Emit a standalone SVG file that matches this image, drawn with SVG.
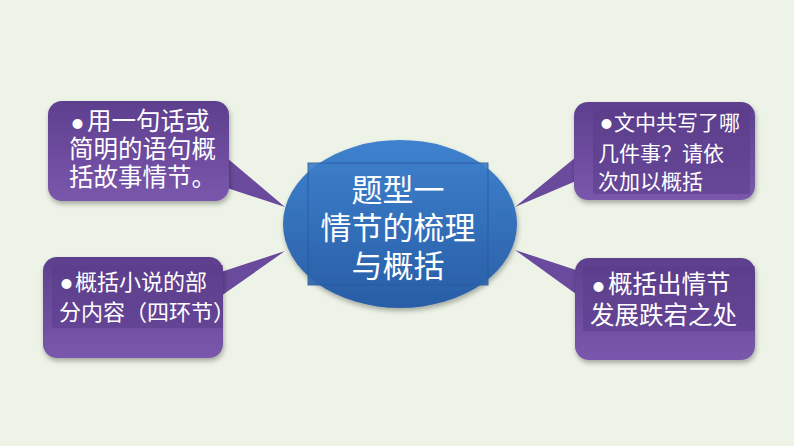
<svg xmlns="http://www.w3.org/2000/svg" width="794" height="446" viewBox="0 0 794 446">
<defs>
<linearGradient id="pg" x1="0" y1="0" x2="0" y2="1">
<stop offset="0" stop-color="#5E3F8E"/>
<stop offset="1" stop-color="#7A57AC"/>
</linearGradient>
<linearGradient id="bg" x1="0" y1="0" x2="0" y2="1">
<stop offset="0" stop-color="#3F82CE"/>
<stop offset="1" stop-color="#2A5EA6"/>
</linearGradient>
<linearGradient id="ig" x1="0" y1="0" x2="0" y2="1">
<stop offset="0" stop-color="#3C7DC9"/>
<stop offset="1" stop-color="#2B62AB"/>
</linearGradient>
<filter id="sh" x="-10%" y="-10%" width="130%" height="130%">
<feDropShadow dx="1" dy="3" stdDeviation="2.5" flood-color="#000" flood-opacity="0.3"/>
</filter>
<clipPath id="c2"><rect x="43" y="257" width="180" height="101" rx="14"/></clipPath>
</defs>
<style>
.box{fill:url(#pg);filter:url(#sh)}
.inner{fill:#5A3D89;opacity:0.55}
.t{fill:#fff;font-family:"Noto Sans CJK SC","Noto Sans",sans-serif}
.b{font-size:11px}
</style>
<rect width="794" height="446" fill="#EDF3E6"/>
<g id="connectors">
<polygon points="227,158 285,207 227,188" fill="#6A4A9C"/>
<polygon points="221,272 285,251 221,296" fill="#6A4A9C"/>
<polygon points="576,157 515,207 576,181" fill="#6A4A9C"/>
<polygon points="576,270 515,250 576,294" fill="#6A4A9C"/>
</g>
<g id="node-center">
<ellipse cx="400" cy="224" rx="117" ry="84" fill="url(#bg)" filter="url(#sh)"/>
<rect x="308" y="163" width="180" height="122" fill="url(#ig)" stroke="#2A5A9C" stroke-width="1" opacity="0.9"/>
<text class="t" font-size="31" text-anchor="middle" x="398" y="201">题型一</text>
<text class="t" font-size="31" text-anchor="middle" x="398" y="239">情节的梳理</text>
<text class="t" font-size="31" text-anchor="middle" x="398" y="277">与概括</text>
</g>
<g id="node-tl">
<rect class="box" x="48" y="101" width="181" height="100" rx="14"/>
<text class="t" font-size="24.5" x="69" y="130"><tspan class="b" dx="3" dy="-2">●</tspan><tspan dx="4" dy="2">用一句话或</tspan></text>
<text class="t" font-size="24.5" x="69" y="158">简明的语句概</text>
<text class="t" font-size="24.5" x="69" y="186">括故事情节。</text>
</g>
<g id="node-bl">
<rect class="box" x="43" y="257" width="180" height="101" rx="14"/>
<rect class="inner" x="52" y="265" width="171" height="63"/>
<g clip-path="url(#c2)">
<text class="t" font-size="22" x="59" y="290"><tspan class="b" dx="2" dy="-2">●</tspan><tspan dx="3" dy="2">概括小说的部</tspan></text>
<text class="t" font-size="22" x="59" y="320">分内容（四环节）</text>
</g>
</g>
<g id="node-tr">
<rect class="box" x="574" y="102" width="181" height="98" rx="14"/>
<rect class="inner" x="593" y="106" width="157" height="88"/>
<text class="t" font-size="21" x="598" y="130"><tspan class="b" font-size="9" dx="3" dy="-2">●</tspan><tspan dx="2" dy="2">文中共写了哪</tspan></text>
<text class="t" font-size="21" x="598" y="161">几件事？请依</text>
<text class="t" font-size="21" x="598" y="189">次加以概括</text>
</g>
<g id="node-br">
<rect class="box" x="575" y="258" width="180" height="102" rx="14"/>
<rect class="inner" x="583" y="266" width="172" height="65"/>
<text class="t" font-size="24.5" x="590" y="293"><tspan class="b" dx="3" dy="-2">●</tspan><tspan dx="4" dy="2">概括出情节</tspan></text>
<text class="t" font-size="24.5" x="590" y="324">发展跌宕之处</text>
</g>
</svg>
